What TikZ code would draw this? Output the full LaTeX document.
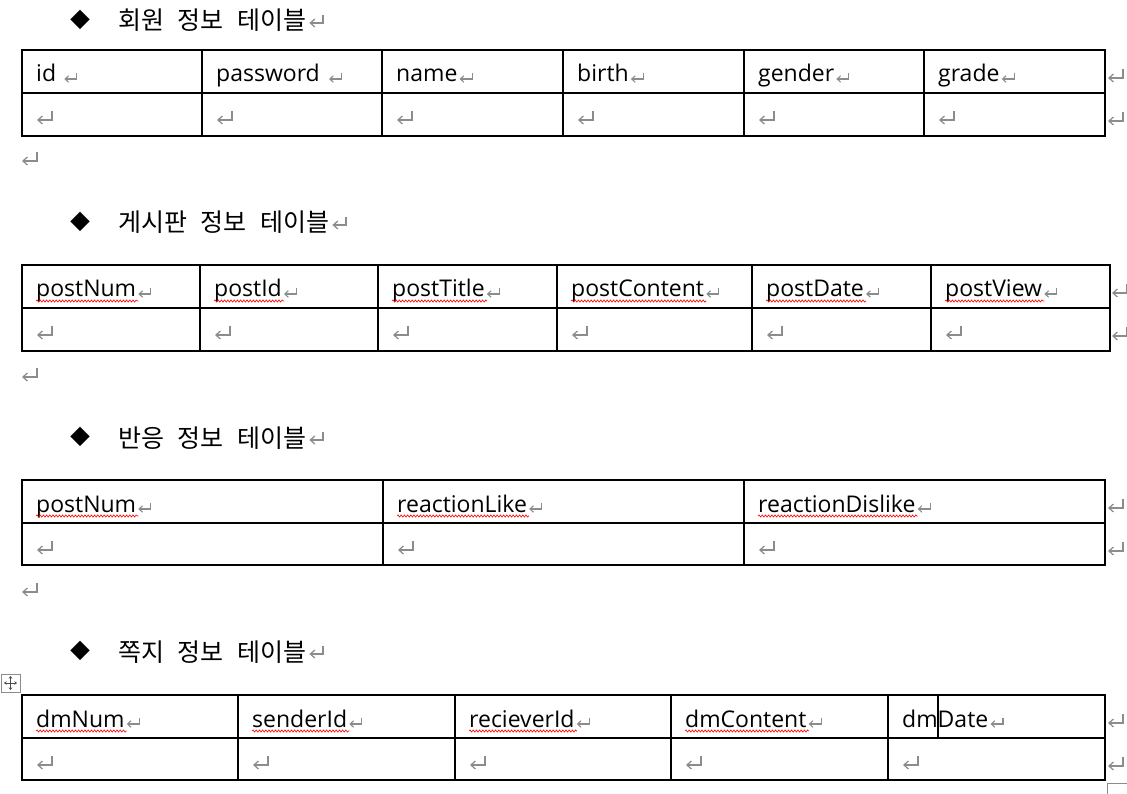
\documentclass[tikz,border=0pt]{standalone}
\usepackage{fontspec}
\setmainfont{Open Sans}
\newfontfamily\kofont{Noto Sans CJK KR}
\usetikzlibrary{arrows.meta,decorations.pathmorphing}
\definecolor{retc}{HTML}{8C8C8C}
\definecolor{squigc}{HTML}{FF0000}
\tikzset{
  txt/.style={inner sep=0pt, anchor=base west, font=\fontsize{23}{23}\selectfont},
  head/.style={inner sep=0pt, anchor=base west, font={\kofont\fontsize{25}{25}\selectfont\spaceskip=13.5pt\relax}},
  bullet/.style={inner sep=0pt, font={\kofont\fontsize{20}{20}\selectfont}},
  grid/.style={line width=1.2pt, black},
  squig/.style={draw=squigc, line width=0.6pt, decorate, decoration={snake, amplitude=1.1pt, segment length=3.2pt}},
  pics/ret/.style={code={\draw[retc, line width=1.1pt, -{Straight Barb[length=3.5pt,width=6.5pt]}] (12.5,-6) -- (12.5,0) -- (0,0);}},
  pics/bigret/.style={code={\draw[retc, line width=1.25pt, -{Straight Barb[length=4.5pt,width=8pt]}] (15,-9) -- (15,0) -- (0,0);}}
}
\newcommand\hcell[5][2]{\node[txt] (#2) at (#3,#4) {#5};
  \pic at ([xshift=#1pt,yshift=3pt]#2.base east) {ret};}
\newcommand\scell[4]{\hcell{#1}{#2}{#3}{#4}
  \path[squig] ([yshift=-4pt]#1.base west) -- ([yshift=-4pt,xshift=2pt]#1.base east);}
\newcommand\heading[3]{\node[bullet] (#1b) at (80,#2) {◆};
  \node[head] (#1) at (118,#2+10) {#3};
  \pic[scale=0.9] at ([xshift=3pt,yshift=7pt]#1.base east) {bigret};}
\begin{document}
\begin{tikzpicture}[x=1pt,y=-1pt]
\useasboundingbox (0,0) rectangle (1127,794);
% ---------- heading 1 ----------
\heading{h1}{20}{회원 정보 테이블}
\draw[grid] (22,50) rectangle (1105,136);
\draw[grid] (22,93) -- (1105,93);
\foreach \x in {202,382,563,744,924} \draw[grid] (\x,50) -- (\x,136);
\hcell[8]{a1}{36}{82}{id}
\hcell[9]{a2}{216}{82}{password}
\hcell{a3}{396}{82}{name}
\hcell{a4}{577}{82}{birth}
\hcell{a5}{758}{82}{gender}
\hcell{a6}{938}{82}{grade}
\foreach \x in {37,217,397,578,759,939} \pic at (\x,120) {bigret};
\pic at (1108,121) {bigret};
\pic at (1108,78) {bigret};
\pic at (22,161) {bigret};
% ---------- heading 2 ----------
\heading{h2}{222}{게시판 정보 테이블}
\draw[grid] (22,265) rectangle (1110,351);
\draw[grid] (22,308) -- (1110,308);
\foreach \x in {200,378,557,752,931} \draw[grid] (\x,265) -- (\x,351);
\scell{b1}{36}{297}{postNum}
\scell{b2}{214}{297}{postId}
\scell{b3}{392}{297}{postTitle}
\scell{b4}{571}{297}{postContent}
\scell{b5}{766}{297}{postDate}
\scell{b6}{945}{297}{postView}
\foreach \x in {37,215,393,572,767,946} \pic at (\x,335) {bigret};
\pic at (1112,336) {bigret};
\pic at (1112,293) {bigret};
\pic at (22,377) {bigret};
% ---------- heading 3 ----------
\heading{h3}{437}{반응 정보 테이블}
\draw[grid] (22,480) rectangle (1105,565);
\draw[grid] (22,523) -- (1105,523);
\foreach \x in {383,744} \draw[grid] (\x,480) -- (\x,565);
\scell{c1}{36}{512}{postNum}
\scell{c2}{397}{512}{reactionLike}
\scell{c3}{758}{512}{reactionDislike}
\foreach \x in {37,398,759} \pic at (\x,550) {bigret};
\pic at (1108,551) {bigret};
\pic at (1108,508) {bigret};
\pic at (22,592) {bigret};
% ---------- heading 4 ----------
\heading{h4}{651}{쪽지 정보 테이블}
% move handle
\draw[retc, fill=white, line width=0.8pt] (1,674) rectangle (20,692);
\draw[black!70, line width=0.8pt, {Stealth[length=2.5pt,width=3.5pt]}-{Stealth[length=2.5pt,width=3.5pt]}] (4,683) -- (17,683);
\draw[black!70, line width=0.8pt, {Stealth[length=2.5pt,width=3.5pt]}-{Stealth[length=2.5pt,width=3.5pt]}] (10.5,676) -- (10.5,690);
\draw[grid] (22,695) rectangle (1105,780);
\draw[grid] (22,738) -- (1105,738);
\foreach \x in {238,455,671,888} \draw[grid] (\x,695) -- (\x,780);
\draw[grid] (938,695) -- (938,738);
\scell{d1}{36}{727}{dmNum}
\scell{d2}{252}{727}{senderId}
\scell{d3}{469}{727}{recieverId}
\scell{d4}{685}{727}{dmContent}
\hcell{d5}{902}{727}{dmDate}
\foreach \x in {37,253,470,686,903} \pic at (\x,765) {bigret};
\pic at (1108,766) {bigret};
\pic at (1108,723) {bigret};
% resize handle
\draw[retc, line width=0.8pt] (1107,800) -- (1107,783) -- (1130,783);
\end{tikzpicture}
\end{document}
